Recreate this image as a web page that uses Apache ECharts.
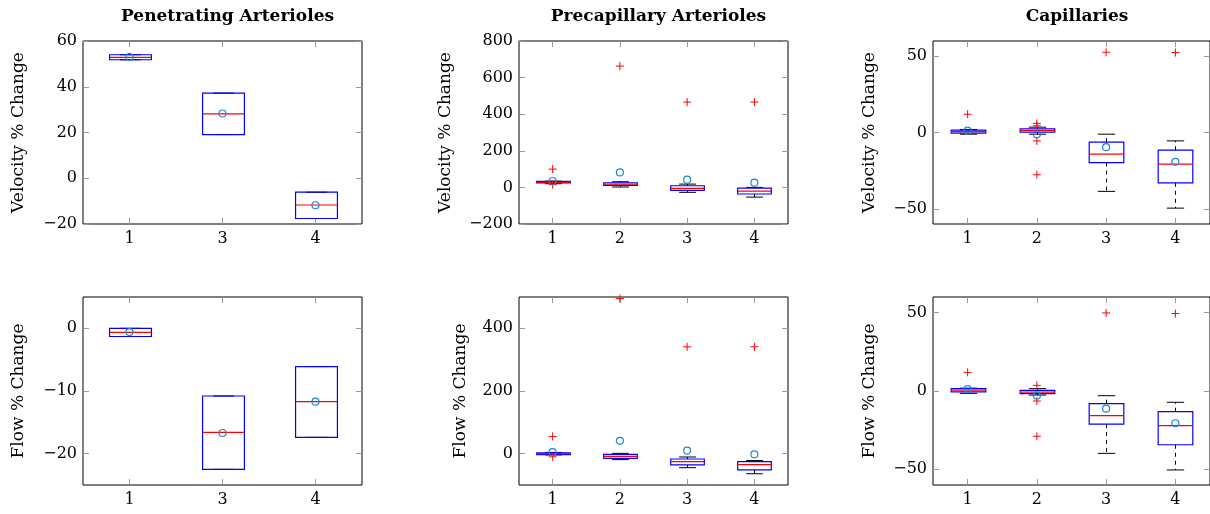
<!DOCTYPE html>
<html>
<head>
<meta charset="utf-8">
<script src="https://cdn.jsdelivr.net/npm/echarts@6/dist/echarts.min.js"></script>
<style>
  html, body { margin: 0; padding: 0; background: #fff; }
  #main { width: 1210px; height: 514px; }
</style>
</head>
<body>
<div id="main"></div>
<script>
// categories
const catsPA = ['1', '3', '4'];
const catsAll = ['1', '2', '3', '4'];

// boxes: [min, q1, median, q3, max]
const paVelBoxes = [[51.8, 51.8, 52.8, 54, 54], [19.1, 19.1, 28.1, 37.2, 37.2], [-17.6, -17.6, -11.7, -6.1, -6.1]];
const paVelMeans = [53, 28.3, -11.8];
const paVelOutliers = [];

const preVelBoxes = [[20, 24, 27, 33, 34], [2, 11, 18, 25.5, 31], [-27, -16, -5.5, 9, 18], [-53, -36, -20, -3.6, 0]];
const preVelMeans = [35, 82, 42, 26];
const preVelOutliers = [[0, 100], [0, 15], [1, 663], [2, 466], [3, 466]];

const capVelBoxes = [[-1.1, -0.4, 0.6, 1.5, 2], [-1.1, 0.2, 1.3, 2.4, 3.5], [-38.6, -19.7, -14.2, -6.3, -1.1], [-49.6, -33, -20.7, -11.6, -5.5]];
const capVelMeans = [1.2, -1.2, -9.6, -19.2];
const capVelOutliers = [[0, 12], [1, 6], [1, 4.4], [1, -5.5], [1, -27.7], [2, 52.6], [3, 52.4]];

const paFlowBoxes = [[-1.3, -1.3, -0.65, 0, 0], [-22.5, -22.5, -16.6, -10.8, -10.8], [-17.4, -17.4, -11.7, -6.1, -6.1]];
const paFlowMeans = [-0.6, -16.7, -11.7];
const paFlowOutliers = [];

const preFlowBoxes = [[-4, -3, 0, 3, 4], [-19, -15, -8.5, -2, 1], [-44.7, -36, -25.5, -17, -10.6], [-64, -52, -35, -25.5, -22]];
const preFlowMeans = [5, 41, 10, -2];
const preFlowOutliers = [[0, 55], [0, -10], [1, 495], [2, 341], [3, 341]];

const capFlowBoxes = [[-1.5, -0.5, 0.6, 1.5, 1.8], [-2.6, -1.7, -0.7, 0.4, 1.5], [-39.8, -21.1, -15.7, -8.1, -3], [-50.4, -34.3, -22.1, -13.2, -7.2]];
const capFlowMeans = [1.2, -3, -11.3, -20.6];
const capFlowOutliers = [[0, 11.9], [1, 3.6], [1, -6.4], [1, -28.9], [2, 49.8], [3, 49.4]];

// tick values
const paVelTicks = [-20, 0, 20, 40, 60];
const preVelTicks = [-200, 0, 200, 400, 600, 800];
const capTicks = [-50, 0, 50];
const paFlowTicks = [-20, -10, 0];
const preFlowTicks = [0, 200, 400];

const FONT = 'DejaVu Serif';
const TICK = '#999';

const panels = [
  { title: 'Penetrating Arterioles', name: 'Velocity % Change', cats: catsPA, boxes: paVelBoxes, means: paVelMeans, outliers: paVelOutliers,
    min: -20, max: 60, ticks: paVelTicks, frac: 0.45, grid: { left: 83, top: 41, width: 279, height: 183 }, gap: 56 },
  { title: 'Precapillary Arterioles', name: 'Velocity % Change', cats: catsAll, boxes: preVelBoxes, means: preVelMeans, outliers: preVelOutliers,
    min: -200, max: 800, ticks: preVelTicks, frac: 0.5, grid: { left: 519, top: 41, width: 269, height: 183 }, gap: 65 },
  { title: 'Capillaries', name: 'Velocity % Change', cats: catsAll, boxes: capVelBoxes, means: capVelMeans, outliers: capVelOutliers,
    min: -60, max: 60, ticks: capTicks, frac: 0.5, grid: { left: 933, top: 41, width: 278, height: 183 }, gap: 55 },
  { title: '', name: 'Flow % Change', cats: catsPA, boxes: paFlowBoxes, means: paFlowMeans, outliers: paFlowOutliers,
    min: -25, max: 5, ticks: paFlowTicks, frac: 0.45, grid: { left: 83, top: 297, width: 279, height: 188 }, gap: 56 },
  { title: '', name: 'Flow % Change', cats: catsAll, boxes: preFlowBoxes, means: preFlowMeans, outliers: preFlowOutliers,
    min: -100, max: 500, ticks: preFlowTicks, frac: 0.5, grid: { left: 519, top: 297, width: 269, height: 188 }, gap: 50 },
  { title: '', name: 'Flow % Change', cats: catsAll, boxes: capFlowBoxes, means: capFlowMeans, outliers: capFlowOutliers,
    min: -60, max: 60, ticks: capTicks, frac: 0.5, grid: { left: 933, top: 297, width: 278, height: 188 }, gap: 55 }
];

const fmt = (v) => String(v).replace('-', '\u2212');

function boxRender(frac) {
  return function (params, api) {
    const x = api.value(0);
    const lo = api.coord([x, api.value(1)]);
    const q1 = api.coord([x, api.value(2)]);
    const md = api.coord([x, api.value(3)]);
    const q3 = api.coord([x, api.value(4)]);
    const hi = api.coord([x, api.value(5)]);
    const bw = api.size([1, 0])[0] * frac;
    const cx = Math.round(lo[0]) + 0.5;
    const cw = bw / 4;
    const dash = { stroke: '#000', lineWidth: 1, lineDash: [4, 4] };
    const solid = { stroke: '#000', lineWidth: 1 };
    return {
      type: 'group',
      children: [
        { type: 'line', shape: { x1: cx, y1: q1[1], x2: cx, y2: lo[1] }, style: dash },
        { type: 'line', shape: { x1: cx, y1: q3[1], x2: cx, y2: hi[1] }, style: dash },
        { type: 'line', shape: { x1: cx - cw, y1: lo[1], x2: cx + cw, y2: lo[1] }, style: solid },
        { type: 'line', shape: { x1: cx - cw, y1: hi[1], x2: cx + cw, y2: hi[1] }, style: solid },
        { type: 'rect', shape: { x: cx - bw / 2, y: q3[1], width: bw, height: q1[1] - q3[1] },
          style: { fill: 'none', stroke: '#0000ff', lineWidth: 1.2 } },
        { type: 'line', shape: { x1: cx - bw / 2, y1: md[1], x2: cx + bw / 2, y2: md[1] },
          style: { stroke: '#ff0000', lineWidth: 1.2 } }
      ]
    };
  };
}

function plusRender(params, api) {
  const p = api.coord([api.value(0), api.value(1)]);
  const h = 4;
  const st = { stroke: '#ff0000', lineWidth: 1 };
  return {
    type: 'group',
    children: [
      { type: 'line', shape: { x1: p[0] - h, y1: p[1], x2: p[0] + h, y2: p[1] }, style: st },
      { type: 'line', shape: { x1: p[0], y1: p[1] - h, x2: p[0], y2: p[1] + h }, style: st }
    ]
  };
}

const option = { animation: false, title: [], grid: [], xAxis: [], yAxis: [], series: [] };

panels.forEach((p, i) => {
  const g = p.grid;
  option.grid.push(Object.assign({ show: true, borderColor: '#000', borderWidth: 1, backgroundColor: 'transparent' }, g));
  if (p.title) {
    option.title.push({
      text: p.title, left: g.left + g.width / 2, top: 3, textAlign: 'center',
      textStyle: { fontFamily: FONT, fontWeight: 'bold', fontSize: 17, color: '#000' }
    });
  }
  const xTick = { show: true, inside: true, alignWithLabel: true, length: 6, lineStyle: { color: TICK } };
  option.xAxis.push({
    type: 'category', gridIndex: i, data: p.cats, position: 'bottom',
    axisLine: { show: false, onZero: false }, axisTick: xTick,
    axisLabel: { fontFamily: FONT, fontSize: 16, color: '#000', margin: 7 }
  });
  option.xAxis.push({
    type: 'category', gridIndex: i, data: p.cats, position: 'top',
    axisLine: { show: false, onZero: false }, axisTick: xTick, axisLabel: { show: false }
  });
  const yTick = { show: true, inside: true, length: 6, lineStyle: { color: TICK }, customValues: p.ticks };
  option.yAxis.push({
    type: 'value', gridIndex: i, min: p.min, max: p.max, position: 'left',
    name: p.name, nameLocation: 'middle', nameRotate: 90, nameGap: p.gap,
    nameTextStyle: { fontFamily: FONT, fontSize: 17, color: '#000' },
    axisLine: { show: false, onZero: false }, splitLine: { show: false }, axisTick: yTick,
    axisLabel: { fontFamily: FONT, fontSize: 16, color: '#000', margin: 6, customValues: p.ticks, formatter: fmt }
  });
  option.yAxis.push({
    type: 'value', gridIndex: i, min: p.min, max: p.max, position: 'right',
    axisLine: { show: false, onZero: false }, splitLine: { show: false }, axisTick: yTick,
    axisLabel: { show: false, customValues: p.ticks }
  });
  option.series.push({
    type: 'custom', xAxisIndex: 2 * i, yAxisIndex: 2 * i,
    renderItem: boxRender(p.frac),
    encode: { x: 0, y: [1, 2, 3, 4, 5] },
    data: p.boxes.map((b, k) => [k].concat(b))
  });
  option.series.push({
    type: 'custom', xAxisIndex: 2 * i, yAxisIndex: 2 * i,
    renderItem: plusRender, encode: { x: 0, y: 1 },
    data: p.outliers
  });
  option.series.push({
    type: 'scatter', xAxisIndex: 2 * i, yAxisIndex: 2 * i,
    symbol: 'circle', symbolSize: 7,
    itemStyle: { color: 'rgba(0,0,0,0)', borderColor: '#1f88d0', borderWidth: 1.2, opacity: 1 },
    data: p.means.map((m, k) => [k, m])
  });
});

const chart = echarts.init(document.getElementById('main'), null, { renderer: 'canvas' });
chart.setOption(option);
</script>
</body>
</html>
